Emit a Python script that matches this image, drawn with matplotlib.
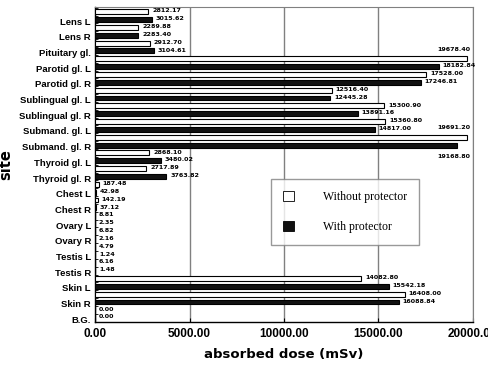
import numpy as np
import matplotlib
matplotlib.use('Agg')
import matplotlib.pyplot as plt
from matplotlib.patches import Patch

sites = ['Lens L', 'Lens R', 'Pituitary gl.', 'Parotid gl. L', 'Parotid gl. R',
         'Sublingual gl. L', 'Sublingual gl. R', 'Submand. gl. L', 'Submand. gl. R',
         'Thyroid gl. L', 'Thyroid gl. R', 'Chest L', 'Chest R', 'Ovary L', 'Ovary R',
         'Testis L', 'Testis R', 'Skin L', 'Skin R', 'B.G.']
without_prot = [2812.17, 2289.88, 2912.70, 19678.40, 17528.00, 12516.40, 15300.90,
                15360.80, 19691.20, 2868.10, 2717.89, 187.48, 142.19, 8.81, 6.82,
                4.79, 6.16, 14082.80, 16408.00, 0.00]
with_prot = [3015.62, 2283.40, 3104.61, 18182.84, 17246.81, 12445.28, 13891.16,
             14817.00, 19168.80, 3480.02, 3763.82, 42.98, 37.12, 2.35, 2.16,
             1.24, 1.48, 15542.18, 16088.84, 0.00]
xticks = [0, 5000, 10000, 15000, 20000]

n = len(sites)
y_w = np.arange(n) * 2
y_b = y_w + 1

fig = plt.figure(figsize=(4.88, 3.68), dpi=100)
ax = fig.add_axes([0.195, 0.125, 0.774, 0.856])

bh = 0.62
ax.barh(y_w, without_prot, height=bh, color='white', edgecolor='black', linewidth=0.8, zorder=3)
ax.barh(y_b, with_prot, height=bh, color='#111111', edgecolor='black', linewidth=0.8, zorder=3)

lab_kw = dict(fontsize=4.6, fontweight='bold', va='center', color='black', zorder=5)
for y, v in zip(y_w, without_prot):
    if v > 19000:
        ax.text(19850, y - 1.2, f'{v:.2f}', ha='right', **lab_kw)
    else:
        ax.text(v + 200, y - 0.1, f'{v:.2f}', ha='left', **lab_kw)
for y, v in zip(y_b, with_prot):
    if v > 19000:
        ax.text(19850, y + 1.4, f'{v:.2f}', ha='right', **lab_kw)
    else:
        ax.text(v + 200, y - 0.1, f'{v:.2f}', ha='left', **lab_kw)

ax.set_xlim(0, 20000)
ax.set_ylim(2 * n - 0.45, -0.6)
ax.set_xticks(xticks)
ax.set_xticklabels([f'{t:.2f}' for t in xticks], fontsize=8.5, fontweight='bold',
                   family='Liberation Sans')
ax.set_yticks(y_b + 0.2)
ax.set_yticklabels(sites, fontsize=6.8, fontweight='bold', family='Liberation Sans')
ax.set_yticks(np.arange(2 * n) - 0.5, minor=True)
ax.tick_params(axis='x', direction='in', length=3, pad=4)
ax.tick_params(axis='y', which='major', length=0, pad=3)
ax.tick_params(axis='y', which='minor', direction='in', length=2.5)

ax.grid(axis='x', color='#808080', linewidth=1.0, zorder=1)
for s in ['top', 'right']:
    ax.spines[s].set_color('#808080')
for s in ['left', 'bottom']:
    ax.spines[s].set_color('black')
    ax.spines[s].set_linewidth(1.0)

ax.set_xlabel('absorbed dose (mSv)', fontsize=9.5, fontweight='bold', labelpad=6)
ax.set_ylabel('site', fontsize=10.5, fontweight='bold', labelpad=4)

handles = [Patch(facecolor='white', edgecolor='black', linewidth=0.6),
           Patch(facecolor='#111111', edgecolor='black', linewidth=0.6)]
leg = ax.legend(handles, ['Without protector', 'With protector'],
                loc='upper left', bbox_to_anchor=(0.465, 0.454),
                prop={'family': 'Liberation Serif', 'size': 8.5},
                frameon=True, fancybox=False, edgecolor='#808080',
                handlelength=1.0, handleheight=1.0, labelspacing=1.5,
                borderpad=1.0, handletextpad=2.4, borderaxespad=0)
leg.get_frame().set_linewidth(1.0)
leg.set_zorder(6)

fig.savefig('out.png', dpi=100, facecolor='white')
